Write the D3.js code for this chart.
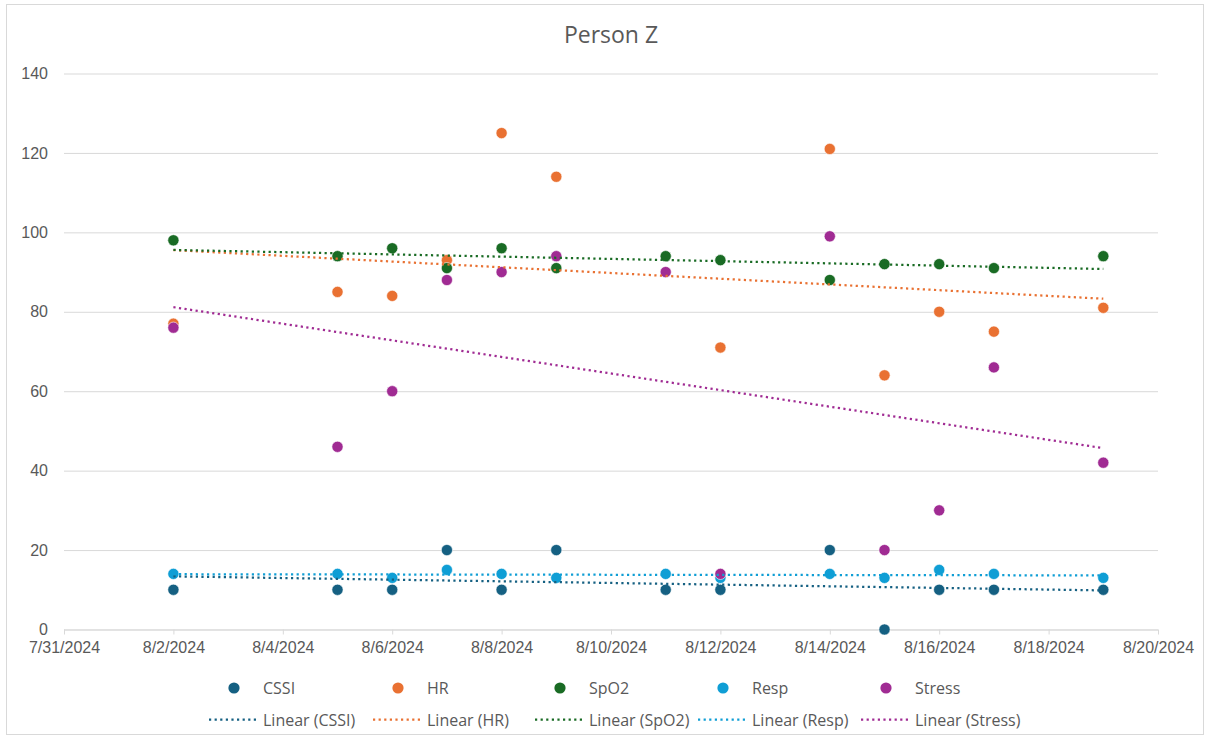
<!DOCTYPE html>
<html>
<head>
<meta charset="utf-8">
<script src="https://cdn.jsdelivr.net/npm/d3@7"></script>
<style>
  html, body { margin: 0; padding: 0; background: #fff; }
  svg { display: block; font-family: "Open Sans", "Liberation Sans", sans-serif; }
</style>
</head>
<body>
<svg id="chart" width="1209" height="738"></svg>
<script>
// ---- data ----
const dates = ["8/2/2024","8/5/2024","8/6/2024","8/7/2024","8/8/2024","8/9/2024","8/11/2024","8/12/2024","8/14/2024","8/15/2024","8/16/2024","8/17/2024","8/19/2024"];
const cssi   = [10, 10, 10, 20, 10, 20, 10, 10, 20, 0, 10, 10, 10];
const hr     = [77, 85, 84, 93, 125, 114, null, 71, 121, 64, 80, 75, 81];
const spo2   = [98, 94, 96, 91, 96, 91, 94, 93, 88, 92, 92, 91, 94];
const resp   = [14, 14, 13, 15, 14, 13, 14, 13, 14, 13, 15, 14, 13];
const stress = [76, 46, 60, 88, 90, 94, 90, 14, 99, 20, 30, 66, 42];
const seriesNames = ["CSSI", "HR", "SpO2", "Resp", "Stress"];
const xTickLabels = ["7/31/2024","8/2/2024","8/4/2024","8/6/2024","8/8/2024","8/10/2024","8/12/2024","8/14/2024","8/16/2024","8/18/2024","8/20/2024"];
const yTickValues = [0, 20, 40, 60, 80, 100, 120, 140];
const title = "Person Z";

// ---- styling ----
const colors = ["#156082", "#E97132", "#196B24", "#0F9ED5", "#A02B93"];
const textColor = "#595959";
const parse = d3.timeParse("%m/%d/%Y");

const series = [cssi, hr, spo2, resp, stress].map((vals, i) => ({
  name: seriesNames[i],
  color: colors[i],
  points: dates.map((d, j) => ({ date: parse(d), value: vals[j] })).filter(p => p.value !== null)
}));

const svg = d3.select("#chart");
const W = 1209, H = 738;
const plot = { left: 64, right: 1158, top: 73.5, bottom: 629.5 };

// outer border
svg.append("rect").attr("x", 6.5).attr("y", 4.5).attr("width", W - 12).attr("height", H - 8)
  .attr("fill", "#fff").attr("stroke", "#d9d9d9").attr("stroke-width", 1);

const xTicks = xTickLabels.map(parse);
const x = d3.scaleTime().domain([xTicks[0], xTicks[xTicks.length - 1]]).range([plot.left, plot.right]);
const y = d3.scaleLinear().domain([0, 140]).range([plot.bottom, plot.top]);

// gridlines
const yAxis = d3.axisLeft(y).tickValues(yTickValues).tickSize(-(plot.right - plot.left)).tickPadding(16).tickFormat(d3.format("d"));
const gy = svg.append("g").attr("transform", `translate(${plot.left},0)`).call(yAxis);
gy.select(".domain").remove();
gy.selectAll(".tick line").attr("stroke", "#d9d9d9").attr("stroke-width", 1);
gy.selectAll(".tick text").attr("fill", textColor).style("font-size", "16px");

// x axis
const xAxis = d3.axisBottom(x).tickValues(xTicks).tickSize(5).tickPadding(7).tickFormat(d3.timeFormat("%-m/%-d/%Y"));
const gx = svg.append("g").attr("transform", `translate(0,${plot.bottom})`).call(xAxis);
gx.select(".domain").attr("stroke", "#d9d9d9").attr("d", `M${plot.left},0.5H${plot.right}`);
gx.selectAll(".tick line").attr("stroke", "#d9d9d9");
gx.selectAll(".tick text").attr("fill", textColor).style("font-size", "16px");

// title
svg.append("text").attr("x", 611).attr("y", 43).attr("text-anchor", "middle")
  .attr("fill", textColor).style("font-size", "23px").text(title);

// trendlines (least squares)
function linreg(points) {
  const xs = points.map(p => +p.date), ys = points.map(p => p.value);
  const mx = d3.mean(xs), my = d3.mean(ys);
  let sxy = 0, sxx = 0;
  xs.forEach((xv, i) => { sxy += (xv - mx) * (ys[i] - my); sxx += (xv - mx) ** 2; });
  const b = sxy / sxx, a = my - b * mx;
  const x0 = d3.min(xs), x1 = d3.max(xs);
  return [[x0, a + b * x0], [x1, a + b * x1]];
}

// markers
series.forEach(s => {
  svg.append("g").selectAll("circle").data(s.points).join("circle")
    .attr("cx", d => x(d.date)).attr("cy", d => y(d.value)).attr("r", 5.6)
    .attr("fill", s.color).attr("stroke", "#fff").attr("stroke-width", 0.6);
});

const line = d3.line().x(d => x(new Date(d[0]))).y(d => y(d[1]));
series.forEach(s => {
  svg.append("path").attr("d", line(linreg(s.points)))
    .attr("fill", "none").attr("stroke", s.color).attr("stroke-width", 2.25)
    .attr("stroke-dasharray", "2.2,3.4");
});

// legend
const labelX = [263, 427, 589, 752, 915];
const leg1 = svg.append("g");
series.forEach((s, i) => {
  leg1.append("circle").attr("cx", labelX[i] - 29).attr("cy", 688).attr("r", 5.6).attr("fill", s.color);
  leg1.append("text").attr("x", labelX[i]).attr("y", 694).attr("fill", textColor)
    .style("font-size", "16px").text(s.name);
});
const leg2 = svg.append("g");
series.forEach((s, i) => {
  leg2.append("line").attr("x1", labelX[i] - 54).attr("x2", labelX[i] - 6).attr("y1", 719.5).attr("y2", 719.5)
    .attr("stroke", s.color).attr("stroke-width", 2.25).attr("stroke-dasharray", "2.2,3.4");
  leg2.append("text").attr("x", labelX[i]).attr("y", 725.5).attr("fill", textColor)
    .style("font-size", "16px").text(`Linear (${s.name})`);
});
</script>
</body>
</html>
